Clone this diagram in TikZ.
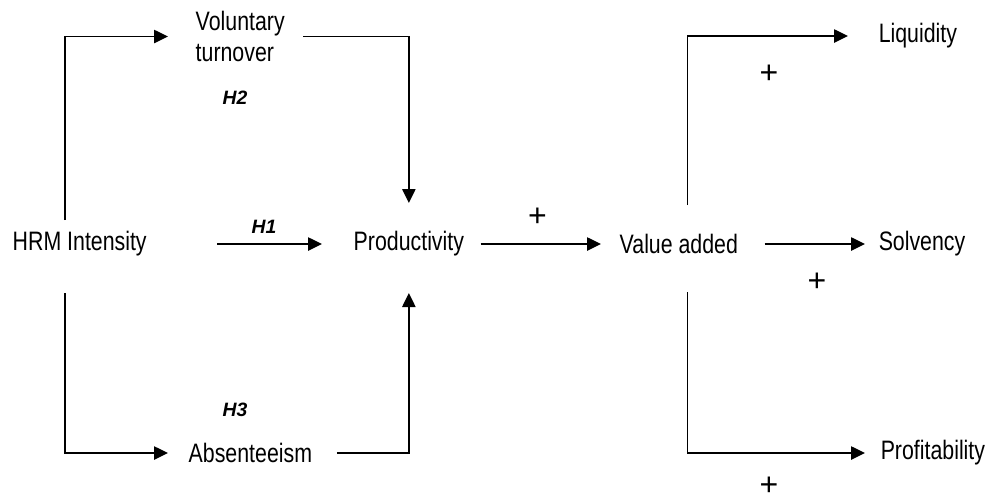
\documentclass[tikz,border=0pt]{standalone}
\usepackage{fontspec}
\setmainfont{Liberation Sans}[FakeStretch=0.8]
\newfontfamily\hypfont{Liberation Sans}
\usetikzlibrary{arrows.meta,calc}

\tikzset{every picture/.style={line width=1.1pt}}
\tikzset{lbl/.style={inner sep=0pt,font=\fontsize{20}{23.5}\selectfont},
	hyp/.style={inner sep=0pt,font=\hypfont\fontsize{14.5}{17}\selectfont\bfseries\itshape},
	sign/.style={inner sep=0pt,text height=14pt,text depth=0pt,font=\hypfont\fontsize{24}{26}\selectfont},
	arr/.style={-{Triangle[length=10.5pt,width=10pt]}}}

\begin{document}
\begin{tikzpicture}[x=0.75pt,y=0.75pt,yscale=-1,xscale=1]
		\useasboundingbox (0,0) rectangle (994,501);
		
		%Texts
		\node (hrm) [lbl,anchor=west] at (12,244) {HRM Intensity};
		\node (vol) [lbl,anchor=west,align=left] at (195,36.5) {Voluntary\\turnover};
		\node (prod) [lbl,anchor=west] at (353,244) {Productivity};
		\node (abs) [lbl,anchor=west] at (188,453) {Absenteeism};
		\node (va) [lbl,anchor=west] at (619,244) {Value added};
		\node (liq) [lbl,anchor=west] at (878,36) {Liquidity};
		\node (sol) [lbl,anchor=west] at (878,244) {Solvency};
		\node (prof) [lbl,anchor=west] at (880,453) {Profitability};
		
		\node (h1) [hyp] at (264,227) {H1};
		\node (h2) [hyp] at (235,98) {H2};
		\node (h3) [hyp] at (235,410) {H3};
		
		\node (p1) [sign] at (537.5,217.5) {+};
		\node (p2) [sign] at (769,74.5) {+};
		\node (p3) [sign] at (817,282.5) {+};
		\node (p4) [sign] at (769,486) {+};
		
		%Connectors
		\draw [arr] ($(hrm.center)+(-14.5,-24)$) |- ($(vol.west)+(-27,0)$);
		\draw [arr] ($(hrm.center)+(-14.5,49)$) |- ($(abs.west)+(-20,0)$);
		\draw [arr] ($(hrm.east)+(70,0)$) -- ($(prod.west)+(-31,0)$);
		\draw [arr] ($(vol.east)+(18,0)$) -| ($(prod.center)+(0,-41)$);
		\draw [arr] ($(abs.east)+(24,0)$) -| ($(prod.center)+(0,49)$);
		\draw [arr] ($(prod.east)+(16,0)$) -- ($(va.west)+(-18,0)$);
		\draw [arr] ($(va.center)+(8.5,-39)$) |- ($(liq.west)+(-30,0)$);
		\draw [arr] ($(va.east)+(26,0)$) -- ($(sol.west)+(-13,0)$);
		\draw [arr] ($(va.center)+(8.5,48)$) |- ($(prof.west)+(-15,0)$);
		
	\end{tikzpicture}
\end{document}
